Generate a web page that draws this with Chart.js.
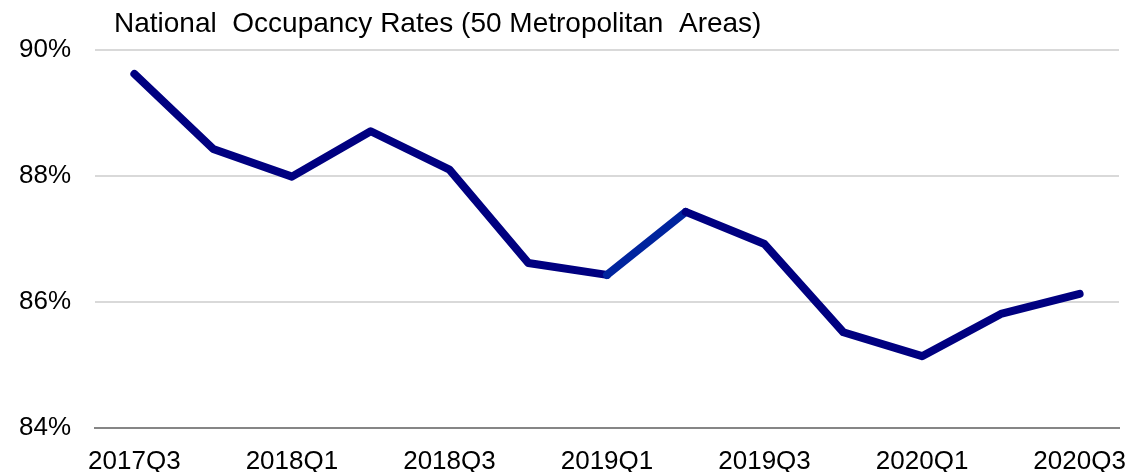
<!DOCTYPE html>
<html>
<head>
<meta charset="utf-8">
<script src="https://cdn.jsdelivr.net/npm/chart.js@4"></script>
<style>
  html, body { margin: 0; padding: 0; background: #ffffff; }
  #wrap { width: 1133px; height: 472px; }
</style>
</head>
<body>
<div id="wrap"><canvas id="occChart" width="1133" height="472"></canvas></div>
<script>
// Chart data
const quarters = ['2017Q3', '2017Q4', '2018Q1', '2018Q2', '2018Q3', '2018Q4', '2019Q1',
                  '2019Q2', '2019Q3', '2019Q4', '2020Q1', '2020Q2', '2020Q3'];
const occupancy = [89.62, 88.43, 87.99, 88.71, 88.1, 86.62, 86.43, 87.43, 86.92, 85.52, 85.14, 85.81, 86.13];
const yTicks = [84, 86, 88, 90];
const titleText = 'National  Occupancy Rates (50 Metropolitan  Areas)';

const FONT = '"Liberation Sans", Arial, sans-serif';

// draw the title in the top-left corner
const titlePlugin = {
    id: 'cornerTitle',
    afterDraw(chart) {
        const ctx = chart.ctx;
        ctx.save();
        ctx.font = '28px ' + FONT;
        ctx.fillStyle = '#000000';
        ctx.textBaseline = 'alphabetic';
        ctx.fillText(titleText, 114, 32);
        ctx.restore();
    }
};

let ctx = document.getElementById('occChart').getContext('2d');
let occChart = new Chart(ctx, {
    type: 'line',
    data: {
        labels: quarters,
        datasets: [{
            data: occupancy,
            borderColor: '#000080',
            borderWidth: 8,
            pointRadius: 0,
            tension: 0,
            borderJoinStyle: 'round',
            borderCapStyle: 'round',
            segment: {
                borderColor: c => c.p0DataIndex === 6 ? '#00249e' : '#000080',
            },
        }],
    },
    options: {
        responsive: false,
        animation: false,
        layout: {
            padding: { top: 50, right: 0, bottom: 0, left: 0 },
        },
        scales: {
            x: {
                offset: true,
                grid: { display: false, drawTicks: false },
                border: { display: true, color: '#868686', width: 2 },
                ticks: {
                    autoSkip: false,
                    maxRotation: 0,
                    padding: 18,
                    color: '#000000',
                    font: { family: FONT, size: 26 },
                    callback: function (value, index) {
                        return index % 2 === 0 ? quarters[index] : '';
                    },
                },
                afterFit: scale => {
                    scale.height = 44;
                    scale.paddingLeft = 0;
                    scale.paddingRight = 14;
                },
            },
            y: {
                min: 84,
                max: 90,
                afterBuildTicks: scale => { scale.ticks = yTicks.map(v => ({ value: v })); },
                grid: { color: '#d9d9d9', lineWidth: 2, drawTicks: false },
                border: { display: false },
                ticks: {
                    padding: 24,
                    color: '#000000',
                    font: { family: FONT, size: 26 },
                    callback: v => v + '%',
                },
                afterFit: scale => { scale.width = 95; },
            },
        },
        plugins: {
            legend: { display: false },
            tooltip: { enabled: false },
        },
    },
    plugins: [titlePlugin],
});
</script>
</body>
</html>
